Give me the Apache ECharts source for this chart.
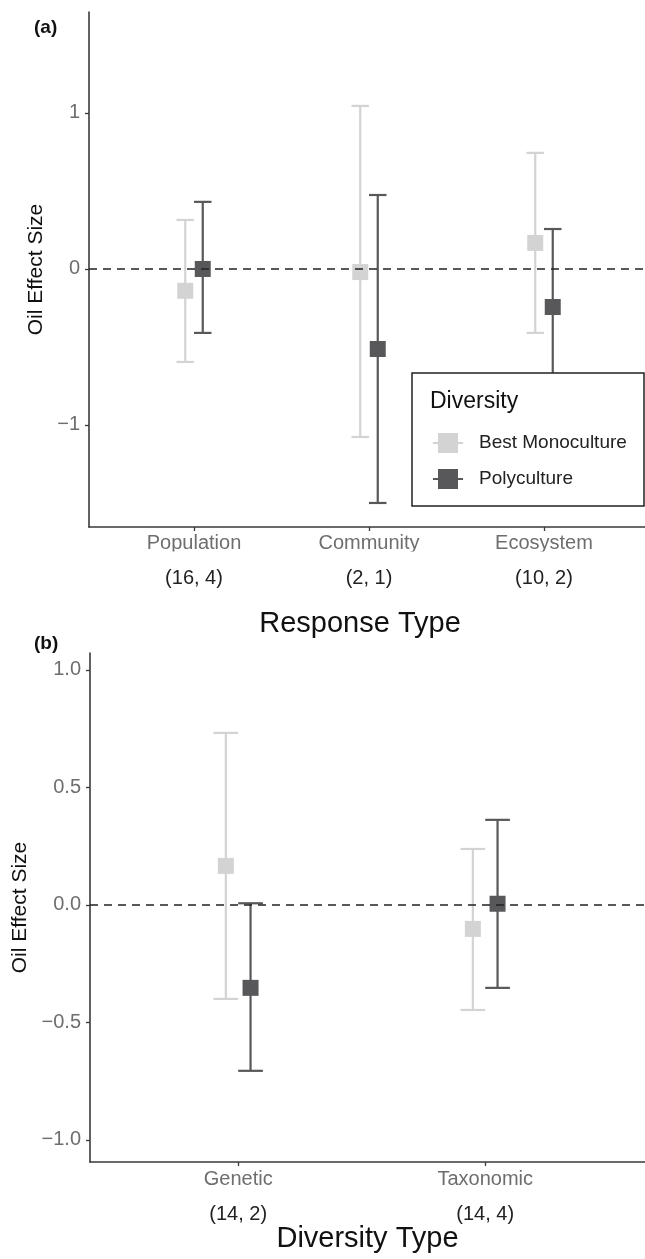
<!DOCTYPE html>
<html>
<head>
<meta charset="utf-8">
<script src="https://cdn.jsdelivr.net/npm/echarts@6/dist/echarts.min.js"></script>
<style>
html,body{margin:0;padding:0;background:#fff;}
#main{width:645px;height:1259px;}
</style>
</head>
<body>
<div id="main"></div>
<script>
// (a) response type
var respTypes = ['Population', 'Community', 'Ecosystem'];
var respCounts = ['(16, 4)', '(2, 1)', '(10, 2)'];
var monoA = [-0.14, -0.02, 0.167];
var monoALow = [-0.596, -1.077, -0.41];
var monoAHigh = [0.314, 1.045, 0.744];
var polyA = [0.0, -0.513, -0.244];
var polyALow = [-0.41, -1.5, -0.744];
var polyAHigh = [0.43, 0.474, 0.256];
var ticksA = [-1, 0, 1];

// (b) diversity type
var divTypes = ['Genetic', 'Taxonomic'];
var divCounts = ['(14, 2)', '(14, 4)'];
var monoB = [0.166, -0.102];
var monoBLow = [-0.4, -0.447];
var monoBHigh = [0.732, 0.238];
var polyB = [-0.353, 0.005];
var polyBLow = [-0.706, -0.353];
var polyBHigh = [0.007, 0.362];
var ticksB = [-1, -0.5, 0, 0.5, 1];

var FONT = '"Liberation Sans", Arial, Helvetica, sans-serif';
var MONO = '#d3d3d3';
var POLY = '#58585a';
var AXIS = '#3a3a3a';
var dodge = 0.05;
var capHalf = 0.05;

function points(vals, shift){
	var out = [];
	for(var i=0;i<vals.length;i++){
		out.push([i + 1 + shift, vals[i]]);
	}
	return out;
}
function bars(low, high, shift){
	var out = [];
	for(var i=0;i<low.length;i++){
		out.push([i + 1 + shift, low[i], high[i]]);
	}
	return out;
}

//误差线
function renderBar(params, api){
	var x = api.value(0), lo = api.value(1), hi = api.value(2);
	var t = api.coord([x, hi]);
	var b = api.coord([x, lo]);
	var hw = api.coord([x + capHalf, hi])[0] - t[0];
	var style = {stroke: api.visual('color'), lineWidth: 2.2};
	return {
		type: 'group',
		children: [
			{type: 'line', shape: {x1: t[0], y1: t[1], x2: b[0], y2: b[1]}, style: style},
			{type: 'line', shape: {x1: t[0] - hw, y1: t[1], x2: t[0] + hw, y2: t[1]}, style: style},
			{type: 'line', shape: {x1: b[0] - hw, y1: b[1], x2: b[0] + hw, y2: b[1]}, style: style}
		]
	};
}

function minus(v){
	return String(v).replace('-', '\u2212');
}

function xAxisOf(idx, names, counts, max, title, gap, margin, namePad){
	return {
		type: 'value', gridIndex: idx, min: 0.4, max: max,
		name: title, nameLocation: 'middle', nameGap: gap,
		nameTextStyle: {fontSize: 29, color: '#111', fontFamily: FONT, padding: namePad},
		axisLine: {onZero: false, lineStyle: {color: AXIS, width: 1.6}},
		axisTick: {customValues: names.map(function(n, i){ return i + 1; }), length: 4, lineStyle: {color: AXIS, width: 1.3}},
		splitLine: {show: false},
		axisLabel: {
			customValues: names.map(function(n, i){ return i + 1; }),
			margin: margin,
			formatter: function(v){
				var i = Math.round(v) - 1;
				return '{n|' + names[i] + '}\n{c|' + counts[i] + '}';
			},
			rich: {
				n: {fontSize: 20, color: '#6e6e6e', lineHeight: 24, fontFamily: FONT},
				c: {fontSize: 20, color: '#222', lineHeight: 46, fontFamily: FONT}
			}
		}
	};
}

function yAxisOf(idx, min, max, ticks, gap, fmt){
	return {
		type: 'value', gridIndex: idx, min: min, max: max,
		name: 'Oil Effect Size', nameLocation: 'middle', nameGap: gap,
		nameTextStyle: {fontSize: 21, color: '#111', fontFamily: FONT},
		axisLine: {show: true, onZero: false, lineStyle: {color: AXIS, width: 1.6}},
		axisTick: {show: true, customValues: ticks, length: 4, lineStyle: {color: AXIS, width: 1.3}},
		splitLine: {show: false},
		axisLabel: {
			customValues: ticks, margin: 9, fontSize: 20, color: '#6e6e6e', fontFamily: FONT,
			formatter: function(v){ return minus(fmt(v)); }
		}
	};
}

var chart = echarts.init(document.getElementById('main'));

var option = {
	animation: false,
	backgroundColor: '#fff',
	textStyle: {fontFamily: FONT},
	title: [
		{text: '(a)', left: 34, top: 18, padding: 0, textStyle: {fontSize: 19, fontWeight: 'bold', color: '#111', fontFamily: FONT}},
		{text: '(b)', left: 34, top: 634, padding: 0, textStyle: {fontSize: 19, fontWeight: 'bold', color: '#111', fontFamily: FONT}}
	],
	grid: [
		{left: 89, top: 12, width: 556, height: 515},
		{left: 90, top: 653, width: 555, height: 509}
	],
	xAxis: [
		xAxisOf(0, respTypes, respCounts, 0.4 + 556 / 175, 'Response Type', 82, 4, [0, 14, 0, 0]),
		xAxisOf(1, divTypes, divCounts, 0.4 + 555 / 247, 'Diversity Type', 62, 5, 0)
	],
	yAxis: [
		yAxisOf(0, -1.654, 1.647, ticksA, 37, function(v){ return String(v); }),
		yAxisOf(1, -1.094, 1.072, ticksB, 56, function(v){ return v.toFixed(1); })
	],
	legend: {
		data: ['Best Monoculture', 'Polyculture'],
		orient: 'vertical', left: 433, top: 433, itemGap: 16, padding: 0, z: 20,
		itemWidth: 30, itemHeight: 20,
		icon: 'path://M0,9H5V0H25V9H30V11H25V20H5V11H0Z',
		selectedMode: false,
		textStyle: {fontSize: 19, color: '#222', fontFamily: FONT, padding: [0, 0, 0, 11]}
	},
	graphic: [
		{type: 'rect', z: 3, shape: {x: 412, y: 373, width: 232, height: 133}, style: {fill: '#fff', stroke: '#222', lineWidth: 1.5}},
		{type: 'text', z: 5, style: {text: 'Diversity', x: 430, y: 402, verticalAlign: 'middle', font: '23px ' + FONT, fill: '#111'}},
		// 原图标签下缘被裁掉
		{type: 'rect', z: 10, shape: {x: 120, y: 551.5, width: 480, height: 8}, style: {fill: '#fff'}}
	],
	series: [
		{name: 'Best Monoculture', type: 'custom', xAxisIndex: 0, yAxisIndex: 0, itemStyle: {color: MONO}, renderItem: renderBar, data: bars(monoALow, monoAHigh, -dodge), z: 2},
		{name: 'Polyculture', type: 'custom', xAxisIndex: 0, yAxisIndex: 0, itemStyle: {color: POLY}, renderItem: renderBar, data: bars(polyALow, polyAHigh, dodge), z: 2},
		{name: 'Best Monoculture', type: 'scatter', xAxisIndex: 0, yAxisIndex: 0, symbol: 'rect', symbolSize: 16, itemStyle: {color: MONO, opacity: 1}, data: points(monoA, -dodge), z: 2},
		{name: 'Polyculture', type: 'scatter', xAxisIndex: 0, yAxisIndex: 0, symbol: 'rect', symbolSize: 16, itemStyle: {color: POLY, opacity: 1}, data: points(polyA, dodge), z: 2},
		{name: 'Best Monoculture', type: 'custom', xAxisIndex: 1, yAxisIndex: 1, itemStyle: {color: MONO}, renderItem: renderBar, data: bars(monoBLow, monoBHigh, -dodge), z: 2},
		{name: 'Polyculture', type: 'custom', xAxisIndex: 1, yAxisIndex: 1, itemStyle: {color: POLY}, renderItem: renderBar, data: bars(polyBLow, polyBHigh, dodge), z: 2},
		{name: 'Best Monoculture', type: 'scatter', xAxisIndex: 1, yAxisIndex: 1, symbol: 'rect', symbolSize: 16, itemStyle: {color: MONO, opacity: 1}, data: points(monoB, -dodge), z: 2},
		{name: 'Polyculture', type: 'scatter', xAxisIndex: 1, yAxisIndex: 1, symbol: 'rect', symbolSize: 16, itemStyle: {color: POLY, opacity: 1}, data: points(polyB, dodge), z: 2},
		//零线
		{type: 'line', xAxisIndex: 0, yAxisIndex: 0, data: [], z: 6, silent: true,
			markLine: {symbol: 'none', silent: true, label: {show: false}, lineStyle: {color: '#222', type: [8, 6], width: 1.5}, data: [{yAxis: 0}]}},
		{type: 'line', xAxisIndex: 1, yAxisIndex: 1, data: [], z: 6, silent: true,
			markLine: {symbol: 'none', silent: true, label: {show: false}, lineStyle: {color: '#222', type: [8, 6], width: 1.5}, data: [{yAxis: 0}]}}
	]
};
chart.setOption(option);
</script>
</body>
</html>
